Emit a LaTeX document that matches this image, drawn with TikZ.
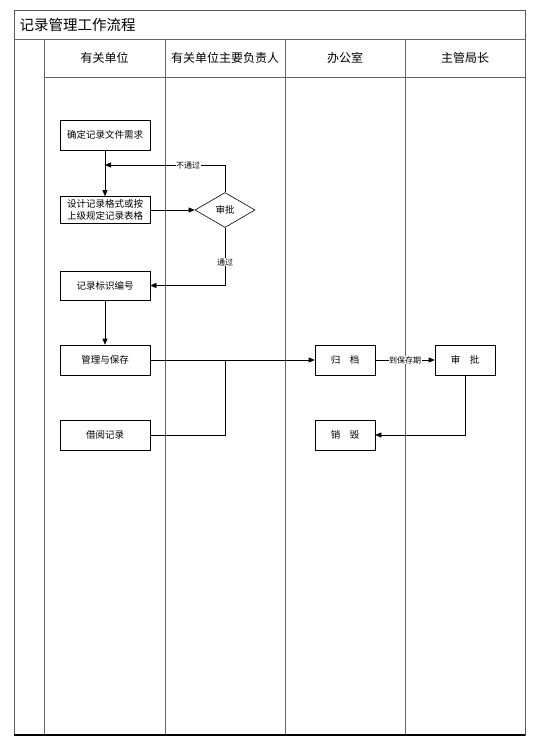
\documentclass[tikz,border=0pt]{standalone}
\usepackage{fontspec}
\newfontfamily\cjk{Noto Sans CJK SC}
\usetikzlibrary{arrows.meta,shapes.geometric}
\begin{document}
\begin{tikzpicture}[x=1pt,y=-1pt,
  font=\cjk,
  frame/.style={draw=black!65,line width=0.9pt},
  grid/.style={draw=black!60,line width=0.8pt},
  box/.style={draw=black,line width=0.6pt,minimum width=90pt,minimum height=30pt,inner sep=1pt,align=center,font=\cjk\fontsize{9.5}{12}\selectfont},
  sbox/.style={box,minimum width=60pt},
  dia/.style={draw=black,line width=0.6pt,diamond,minimum width=60pt,minimum height=35pt,inner sep=0pt,font=\cjk\fontsize{9.5}{12}\selectfont},
  arr/.style={draw=black,line width=0.6pt,-{Triangle[length=6pt,width=5pt]}},
  ln/.style={draw=black,line width=0.6pt},
  lbl/.style={fill=white,inner sep=0.5pt,font=\cjk\fontsize{8}{10}\selectfont},
  head/.style={font=\cjk\fontsize{12}{14}\selectfont}]
\useasboundingbox (0,0) rectangle (536,749);
% frame and lanes
\draw[frame] (14,10) rectangle (525,735);
\draw[grid] (14,39) -- (525,39);
\draw[grid] (44,77) -- (525,77);
\foreach \x in {44,165,285,405} \draw[grid] (\x,39) -- (\x,735);
\draw[draw=black,line width=1.2pt] (14,735) -- (525,735);
\node[anchor=west,font=\cjk\fontsize{14.5}{16}\selectfont] (title) at (16,24.5) {记录管理工作流程};
\node[head] (h1) at (104.5,58) {有关单位};
\node[head] (h2) at (225,58) {有关单位主要负责人};
\node[head] (h3) at (345,58) {办公室};
\node[head] (h4) at (465,58) {主管局长};
% nodes
\node[box] (b1) at (105,135) {确定记录文件需求};
\node[box,minimum height=27pt] (b2) at (105,210) {设计记录格式或按\\上级规定记录表格};
\node[dia] (d) at (225,210) {审批};
\node[box,minimum height=29pt] (b3) at (105,285.5) {记录标识编号};
\node[box] (b4) at (105,360) {管理与保存};
\node[box] (b5) at (105,435) {借阅记录};
\node[sbox] (g) at (345,360) {归\quad 档};
\node[sbox] (s) at (465,360) {审\quad 批};
\node[sbox] (x) at (345,435) {销\quad 毁};
\coordinate (j1) at (105,165);
\coordinate (j2) at (225,360);
% connectors
\draw[arr] (b1) -- (b2);
\draw[arr] (b2) -- (d);
\draw[arr] (d.north) |- (j1);
\node[lbl] (l1) at (188,165) {不通过};
\draw[arr] (d.south) |- (b3.east);
\node[lbl] (l2) at (225,262) {通过};
\draw[arr] (b3) -- (b4);
\draw[arr] (b4) -- (g);
\draw[ln] (b5.east) -| (j2);
\draw[arr] (g) -- node[lbl] (l3) {到保存期} (s);
\draw[arr] (s.south) |- (x.east);
\end{tikzpicture}
\end{document}
